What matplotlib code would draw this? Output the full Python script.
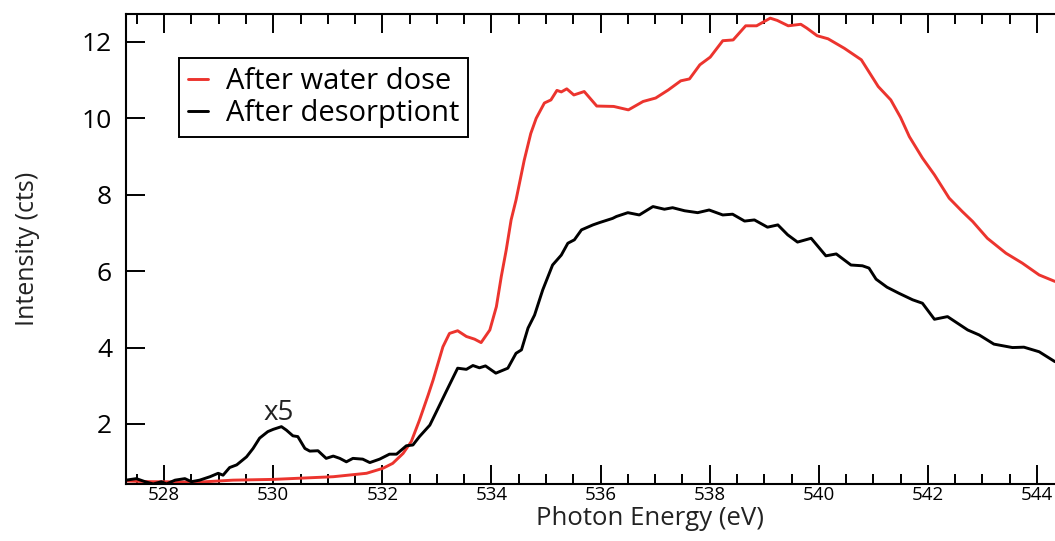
"""O K-edge NEXAFS: spectrum after water dose vs after desorption."""

import matplotlib
matplotlib.use("Agg")
import matplotlib.pyplot as plt
from matplotlib.ticker import MultipleLocator

plt.rcParams["font.family"] = ["Open Sans", "DejaVu Sans"]

RED = "#ec342e"

# After water dose (red trace)
E_DOSE = [527.30, 527.74, 528.65, 529.26, 530.00, 531.10, 531.71, 532.01,
          532.19, 532.38, 532.53, 532.68, 532.84, 532.93, 533.11, 533.23,
          533.38, 533.54, 533.69, 533.81, 533.97, 534.09, 534.18, 534.27,
          534.36, 534.45, 534.60, 534.72, 534.82, 534.97, 535.09, 535.20,
          535.28, 535.38, 535.51, 535.70, 535.93, 536.24, 536.51, 536.78,
          537.01, 537.24, 537.47, 537.63, 537.82, 538.01, 538.24, 538.43,
          538.66, 538.86, 539.11, 539.24, 539.44, 539.67, 539.78, 539.97,
          540.17, 540.47, 540.78, 541.09, 541.32, 541.50, 541.66, 541.90,
          542.12, 542.39, 542.63, 542.82, 543.09, 543.43, 543.73, 544.04,
          544.33]
I_DOSE = [0.51, 0.49, 0.48, 0.53, 0.55, 0.62, 0.71, 0.84,
          0.97, 1.23, 1.54, 2.10, 2.76, 3.15, 4.02, 4.37,
          4.44, 4.29, 4.22, 4.13, 4.46, 5.07, 5.86, 6.55,
          7.34, 7.86, 8.90, 9.60, 10.00, 10.40, 10.48, 10.73,
          10.69, 10.77, 10.61, 10.70, 10.32, 10.31, 10.22, 10.44,
          10.53, 10.74, 10.98, 11.03, 11.40, 11.60, 12.03, 12.05,
          12.42, 12.42, 12.62, 12.56, 12.42, 12.46, 12.36, 12.16,
          12.08, 11.83, 11.53, 10.83, 10.48, 10.02, 9.52, 8.96,
          8.52, 7.91, 7.56, 7.30, 6.86, 6.47, 6.21, 5.90,
          5.73]

# After desorption (black trace, pre-edge scaled x5)
E_DES = [527.30, 527.49, 527.65, 527.80, 527.95, 528.04, 528.20, 528.38,
         528.50, 528.65, 528.84, 528.99, 529.08, 529.20, 529.33, 529.51,
         529.63, 529.75, 529.90, 530.00, 530.15, 530.24, 530.36, 530.45,
         530.58, 530.67, 530.82, 530.97, 531.10, 531.22, 531.34, 531.46,
         531.64, 531.77, 531.95, 532.13, 532.26, 532.44, 532.56, 532.68,
         532.87, 532.99, 533.17, 533.38, 533.54, 533.66, 533.78, 533.89,
         534.08, 534.30, 534.45, 534.55, 534.67, 534.79, 534.94, 535.12,
         535.28, 535.40, 535.52, 535.65, 535.86, 535.98, 536.22, 536.29,
         536.50, 536.71, 536.96, 537.17, 537.32, 537.54, 537.78, 537.99,
         538.24, 538.42, 538.64, 538.82, 539.06, 539.25, 539.43, 539.61,
         539.86, 540.13, 540.32, 540.59, 540.80, 540.92, 541.05, 541.25,
         541.47, 541.72, 541.90, 542.12, 542.36, 542.73, 542.94, 543.21,
         543.55, 543.76, 544.04, 544.33]
I_DES = [0.53, 0.57, 0.49, 0.43, 0.49, 0.43, 0.53, 0.57,
         0.49, 0.53, 0.62, 0.71, 0.66, 0.86, 0.93, 1.14,
         1.36, 1.63, 1.80, 1.86, 1.93, 1.84, 1.69, 1.67,
         1.36, 1.29, 1.30, 1.10, 1.16, 1.10, 1.01, 1.10,
         1.08, 0.99, 1.08, 1.21, 1.21, 1.43, 1.45, 1.67,
         1.97, 2.32, 2.85, 3.46, 3.43, 3.53, 3.47, 3.52,
         3.33, 3.46, 3.85, 3.94, 4.51, 4.85, 5.51, 6.16,
         6.42, 6.73, 6.82, 7.08, 7.21, 7.27, 7.38, 7.43,
         7.53, 7.47, 7.69, 7.62, 7.66, 7.58, 7.53, 7.60,
         7.47, 7.49, 7.31, 7.34, 7.15, 7.21, 6.95, 6.76,
         6.86, 6.40, 6.45, 6.16, 6.14, 6.08, 5.79, 5.58,
         5.42, 5.25, 5.16, 4.74, 4.81, 4.46, 4.33, 4.09,
         4.00, 4.01, 3.89, 3.63]


def main():
    fig = plt.figure(figsize=(10.55, 5.41), dpi=100)
    ax = fig.add_axes([0.1194, 0.1054, 0.8806, 0.8688])

    style = dict(lw=2.1, solid_joinstyle="round", solid_capstyle="round")
    ax.plot(E_DOSE, I_DOSE, color=RED, label="After water dose", **style)
    ax.plot(E_DES, I_DES, color="black", label="After desorptiont", **style)

    ax.set_xlim(527.3, 544.33)
    ax.set_ylim(0.43, 12.73)

    ax.xaxis.set_major_locator(MultipleLocator(2))
    ax.xaxis.set_minor_locator(MultipleLocator(0.5))
    ax.set_yticks([2, 4, 6, 8, 10, 12])

    ax.tick_params(axis="x", which="both", direction="in", top=True,
                   width=1.4, labelsize=13.5, pad=1.5)
    ax.tick_params(axis="x", which="major", length=14)
    ax.tick_params(axis="x", which="minor", length=7.5)
    ax.tick_params(axis="y", which="major", direction="in", length=14,
                   width=1.4, labelsize=19, pad=10, right=False)

    for side in ("left", "bottom", "top"):
        ax.spines[side].set_linewidth(1.5)
    ax.spines["right"].set_visible(False)

    ax.set_xlabel("Photon Energy (eV)", fontsize=18.5, color="#222222")
    ax.xaxis.set_label_coords(0.564, -0.0475)
    ax.set_ylabel("Intensity (cts)", fontsize=18, color="#222222")
    ax.yaxis.set_label_coords(-0.0926, 0.5)

    ax.text(530.1, 2.29, "x5", fontsize=20, ha="center", va="center",
            color="#222222")

    leg = ax.legend(loc="upper left", bbox_to_anchor=(179 / 1055, 1 - 58 / 541),
                    bbox_transform=fig.transFigure, fontsize=21,
                    handlelength=0.7, handletextpad=0.6, labelspacing=0.12,
                    borderpad=0.3, borderaxespad=0, fancybox=False,
                    framealpha=1, edgecolor="black")
    leg.get_frame().set_linewidth(1.4)

    fig.savefig("out.png", dpi=100)


if __name__ == "__main__":
    main()
